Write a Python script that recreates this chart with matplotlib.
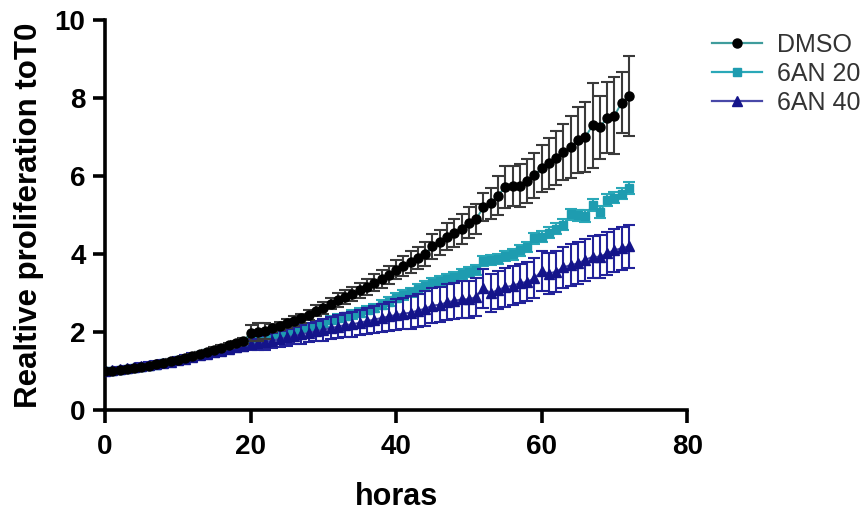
import matplotlib
matplotlib.use("Agg")
import matplotlib.pyplot as plt
from matplotlib.lines import Line2D

plt.rcParams['font.family'] = ['Liberation Sans', 'DejaVu Sans']

hours = list(range(0, 73))

dmso = [1.00, 1.00, 1.02, 1.04, 1.07, 1.10, 1.13, 1.17, 1.21, 1.25,
        1.29, 1.33, 1.38, 1.44, 1.49, 1.55, 1.60, 1.66, 1.71, 1.76,
        1.98, 2.00, 2.02, 2.10, 2.16, 2.22, 2.28, 2.35, 2.43, 2.55,
        2.62, 2.73, 2.82, 2.90, 2.98, 3.07, 3.16, 3.26, 3.36, 3.46,
        3.60, 3.70, 3.80, 3.90, 4.00, 4.20, 4.30, 4.45, 4.55, 4.65,
        4.80, 4.90, 5.20, 5.30, 5.50, 5.72, 5.75, 5.75, 5.87, 6.02,
        6.20, 6.33, 6.46, 6.62, 6.74, 6.92, 7.00, 7.30, 7.25, 7.50,
        7.55, 7.88, 8.05]
dmso_err = [0.03, 0.03, 0.03, 0.04, 0.04, 0.04, 0.04, 0.05, 0.05, 0.05,
            0.05, 0.05, 0.06, 0.06, 0.06, 0.06, 0.07, 0.07, 0.07, 0.08,
            0.20, 0.22, 0.20, 0.10, 0.10, 0.12, 0.12, 0.12, 0.13, 0.14,
            0.15, 0.15, 0.17, 0.18, 0.18, 0.20, 0.20, 0.22, 0.22, 0.24,
            0.25, 0.26, 0.28, 0.28, 0.30, 0.32, 0.32, 0.34, 0.36, 0.38,
            0.40, 0.38, 0.36, 0.40, 0.50, 0.55, 0.52, 0.55, 0.56, 0.58,
            0.60, 0.65, 0.70, 0.72, 0.80, 0.85, 0.90, 1.08, 0.80, 0.92,
            0.98, 0.78, 1.03]

an20 = [1.00, 1.01, 1.03, 1.05, 1.08, 1.10, 1.13, 1.16, 1.20, 1.24,
        1.28, 1.32, 1.37, 1.42, 1.47, 1.52, 1.56, 1.61, 1.66, 1.70,
        1.76, 1.82, 1.86, 1.90, 1.95, 2.00, 2.04, 2.08, 2.13, 2.18,
        2.24, 2.30, 2.35, 2.40, 2.45, 2.50, 2.56, 2.62, 2.70, 2.78,
        2.88, 2.95, 3.02, 3.10, 3.18, 3.25, 3.30, 3.36, 3.42, 3.48,
        3.55, 3.60, 3.82, 3.84, 3.88, 3.95, 4.00, 4.10, 4.18, 4.40,
        4.45, 4.55, 4.65, 4.75, 5.02, 5.00, 4.98, 5.26, 5.08, 5.38,
        5.45, 5.55, 5.70]
an20_err = [0.03, 0.03, 0.03, 0.04, 0.04, 0.04, 0.04, 0.05, 0.05, 0.05,
            0.05, 0.05, 0.06, 0.06, 0.06, 0.06, 0.06, 0.07, 0.07, 0.07,
            0.08, 0.08, 0.08, 0.08, 0.08, 0.09, 0.09, 0.09, 0.09, 0.10,
            0.10, 0.10, 0.10, 0.10, 0.11, 0.11, 0.11, 0.11, 0.12, 0.12,
            0.12, 0.12, 0.12, 0.12, 0.13, 0.13, 0.13, 0.13, 0.13, 0.13,
            0.13, 0.13, 0.13, 0.13, 0.13, 0.14, 0.14, 0.14, 0.14, 0.14,
            0.14, 0.14, 0.14, 0.14, 0.14, 0.14, 0.15, 0.15, 0.15, 0.15,
            0.15, 0.15, 0.15]

an40 = [1.00, 1.02, 1.05, 1.08, 1.10, 1.13, 1.16, 1.18, 1.20, 1.23,
        1.27, 1.31, 1.35, 1.40, 1.44, 1.48, 1.52, 1.57, 1.61, 1.65,
        1.68, 1.72, 1.75, 1.78, 1.82, 1.86, 1.90, 1.94, 1.98, 2.02,
        2.06, 2.10, 2.14, 2.18, 2.20, 2.24, 2.28, 2.32, 2.36, 2.40,
        2.44, 2.47, 2.50, 2.55, 2.60, 2.68, 2.70, 2.76, 2.80, 2.84,
        2.84, 2.90, 3.12, 3.00, 3.08, 3.15, 3.19, 3.25, 3.29, 3.38,
        3.56, 3.50, 3.55, 3.66, 3.72, 3.76, 3.85, 3.93, 3.93, 4.02,
        4.10, 4.15, 4.20]
an40_err = [0.04, 0.05, 0.05, 0.06, 0.06, 0.07, 0.07, 0.08, 0.08, 0.08,
            0.09, 0.09, 0.10, 0.10, 0.10, 0.11, 0.11, 0.12, 0.12, 0.13,
            0.15, 0.18, 0.20, 0.20, 0.20, 0.22, 0.22, 0.24, 0.24, 0.25,
            0.28, 0.28, 0.30, 0.30, 0.32, 0.32, 0.34, 0.34, 0.36, 0.38,
            0.40, 0.40, 0.42, 0.42, 0.44, 0.45, 0.45, 0.46, 0.46, 0.47,
            0.48, 0.48, 0.50, 0.48, 0.48, 0.50, 0.50, 0.50, 0.50, 0.52,
            0.52, 0.52, 0.52, 0.53, 0.53, 0.54, 0.54, 0.54, 0.55, 0.55,
            0.55, 0.55, 0.55]

series_names = ["DMSO", "6AN 20", "6AN 40"]
x_ticks = [0, 20, 40, 60, 80]
y_ticks = [0, 2, 4, 6, 8, 10]

# line colour, error-bar colour, marker, marker colour, marker size
styles = {
    "DMSO":   ("#3f9c9c", "#3a3a3a", "o", "black", 6.5),
    "6AN 20": ("#2aa8b8", "#2aa8b8", "s", "#1e9cb0", 6.0),
    "6AN 40": ("#4848a8", "#22229a", "^", "#14148a", 7.0),
}
series = {"DMSO": (dmso, dmso_err), "6AN 20": (an20, an20_err),
          "6AN 40": (an40, an40_err)}

fig = plt.figure(figsize=(8.65, 5.17), dpi=100)
ax = fig.add_axes([0.1214, 0.207, 0.673, 0.754])

# draw order: 6AN 20 underneath, DMSO on top
for z, name in enumerate(["6AN 20", "6AN 40", "DMSO"]):
    lc, ec, mk, mc, ms = styles[name]
    vals, errs = series[name]
    ax.errorbar(hours, vals, yerr=errs, color=lc, ecolor=ec, marker=mk,
                markersize=ms, markerfacecolor=mc, markeredgecolor=mc,
                lw=1.4, elinewidth=1.5, capsize=4.5, capthick=1.5,
                zorder=2 + z)

ax.set_xlim(0, 80)
ax.set_ylim(0, 10)
ax.set_xticks(x_ticks)
ax.set_yticks(y_ticks)
for side in ("top", "right"):
    ax.spines[side].set_visible(False)
for side in ("left", "bottom"):
    ax.spines[side].set_linewidth(2.6)
ax.tick_params(axis="both", direction="out", length=9, width=2.6,
               labelsize=20)
ax.tick_params(axis="x", pad=8)
ax.tick_params(axis="y", pad=5)
for lab in ax.get_xticklabels() + ax.get_yticklabels():
    lab.set_fontweight("bold")

ax.set_xlabel("horas", fontsize=22, fontweight="bold", labelpad=16)
ax.set_ylabel("Realtive proliferation toT0", fontsize=22.5, fontweight="bold",
              labelpad=8)

handles = []
for name in series_names:
    lc, ec, mk, mc, ms = styles[name]
    handles.append(Line2D([], [], color=lc, lw=1.6, marker=mk, markersize=ms,
                          markerfacecolor=mc, markeredgecolor=mc))
fig.legend(handles, series_names, loc="upper left",
           bbox_to_anchor=(712 / 865, 1 - 33 / 517), frameon=False,
           fontsize=18, handlelength=2.0, labelspacing=0.2,
           handletextpad=0.6, borderpad=0, borderaxespad=0,
           labelcolor="#333333")

fig.savefig("out.png", dpi=100)
